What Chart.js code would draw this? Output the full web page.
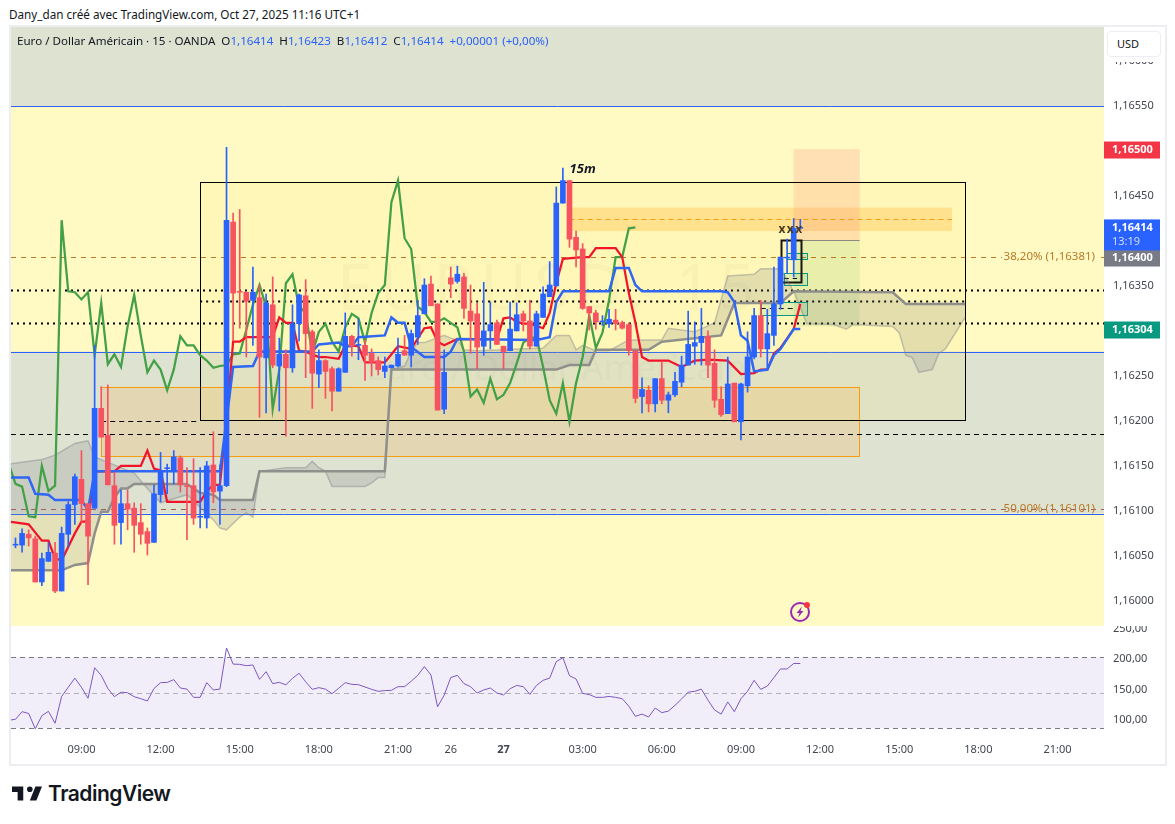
<!DOCTYPE html>
<html lang="fr">
<head>
<meta charset="utf-8">
<title>EURUSD 15</title>
<script src="https://cdn.jsdelivr.net/npm/chart.js"></script>
<style>
    html, body { margin: 0; padding: 0; background: #fff; font-family: "Noto Sans", sans-serif; color: #131722; }
    body { width: 1175px; height: 824px; position: relative; overflow: hidden; }
    canvas { position: absolute; display: block; }
    #frame { position: absolute; left: 9px; top: 25px; width: 1154px; height: 737px; border: 1px solid #eceef2; border-width: 2px; }
    #credit { position: absolute; left: 9px; top: 6px; font-size: 11.7px; white-space: nowrap; color: #131722; }
    #legend { position: absolute; left: 17px; top: 33px; font-size: 11.6px; white-space: pre; color: #131722; }
    #legend b { font-weight: normal; color: #2962ff; }
    #unitMask { position: absolute; left: 1105px; top: 28px; width: 58px; height: 34px; background: #fff; }
    #unit { position: absolute; left: 1107px; top: 31px; width: 52px; height: 24px; line-height: 24px; border: 1px solid #eceef2; border-radius: 4px; background: #fff; font-size: 11px; text-indent: 9px; }
    #logo { position: absolute; left: 12px; top: 786px; }
    #brand { position: absolute; left: 48px; top: 778px; font: 600 21px/32px Inter, sans-serif; letter-spacing: -0.5px; color: #131722; }
    #spark { position: absolute; left: 788px; top: 600px; }
</style>
</head>
<body>
<canvas id="mainChart" width="1154" height="599" style="left:11px;top:27px"></canvas>
<canvas id="oscChart" width="1154" height="138" style="left:11px;top:626px"></canvas>
<div id="frame"></div>
<div id="credit">Dany_dan créé avec TradingView.com, Oct 27, 2025 11:16 UTC+1</div>
<div id="legend">Euro / Dollar Américain · 15 · OANDA  O<b>1,16414</b>  H<b>1,16423</b>  B<b>1,16412</b>  C<b>1,16414</b>  <b>+0,00001 (+0,00%)</b></div>
<div id="unitMask"></div>
<div id="unit">USD</div>
<svg id="spark" width="24" height="24" viewBox="0 0 24 24">
    <circle cx="12" cy="12" r="9" fill="none" stroke="#9c27b0" stroke-width="2"/>
    <path d="M14 6.5 8.5 13h3l-1.5 4.5 5.5-6.5h-3z" fill="#9c27b0"/>
    <circle cx="19" cy="5" r="3" fill="#f23645"/>
</svg>
<svg id="logo" width="30" height="15" viewBox="2 6 32 15"><path fill="#131722" d="M14 6H2v6h6v9h6V6zm14 15h-7l6-15h7l-6 15zm-7-9a3 3 0 1 0 0-6 3 3 0 0 0 0 6z"/></svg>
<div id="brand">TradingView</div>

<script>
// bars are counted in 15 minute steps, bar 0 is 09:00 on the 27th
const firstBar = -110;

const candleOpen = [
    1.16061,1.16061,1.16073,1.16068,1.16020,1.16043,1.16052,1.16010,1.16073,1.16106,
    1.16134,1.16107,1.16102,1.16213,1.16183,1.16127,1.16086,1.16107,1.16102,1.16086,
    1.16076,1.16064,1.16117,1.16146,1.16143,1.16158,1.16127,1.16127,1.16092,1.16091,
    1.16150,1.16121,1.16127,1.16420,1.16343,1.16342,1.16333,1.16336,1.16269,1.16328,
    1.16260,1.16273,1.16258,1.16307,1.16338,1.16298,1.16251,1.16266,1.16257,1.16232,
    1.16253,1.16293,1.16283,1.16283,1.16274,1.16266,1.16254,1.16258,1.16260,1.16277,
    1.16272,1.16292,1.16318,1.16351,1.16329,1.16212,1.16358,1.16354,1.16359,1.16321,
    1.16318,1.16282,1.16299,1.16308,1.16282,1.16277,1.16299,1.16318,1.16310,1.16282,
    1.16314,1.16337,1.16349,1.16441,1.16466,1.16403,1.16390,1.16326,1.16319,1.16309,
    1.16307,1.16311,1.16308,1.16306,1.16277,1.16226,1.16233,1.16218,1.16246,1.16222,
    1.16228,1.16242,1.16261,1.16282,1.16286,1.16293,1.16263,1.16223,1.16207,1.16241,
    1.16198,1.16238,1.16270,1.16316,1.16279,1.16294,1.16329,1.16380,1.16378,1.16413
];
const candleHigh = [
    1.16069,1.16079,1.16078,1.16071,1.16052,1.16064,1.16064,1.16081,1.16109,1.16140,
    1.16166,1.16107,1.16283,1.16237,1.16239,1.16142,1.16122,1.16122,1.16108,1.16107,
    1.16080,1.16128,1.16164,1.16151,1.16166,1.16160,1.16147,1.16157,1.16147,1.16154,
    1.16187,1.16150,1.16503,1.16430,1.16434,1.16342,1.16370,1.16350,1.16340,1.16359,
    1.16291,1.16278,1.16328,1.16340,1.16356,1.16300,1.16278,1.16267,1.16259,1.16258,
    1.16319,1.16294,1.16312,1.16289,1.16279,1.16270,1.16270,1.16261,1.16291,1.16294,
    1.16300,1.16333,1.16357,1.16360,1.16329,1.16278,1.16370,1.16371,1.16363,1.16350,
    1.16330,1.16353,1.16331,1.16311,1.16282,1.16331,1.16330,1.16321,1.16333,1.16321,
    1.16348,1.16376,1.16459,1.16480,1.16466,1.16410,1.16396,1.16326,1.16322,1.16316,
    1.16323,1.16323,1.16310,1.16308,1.16277,1.16247,1.16238,1.16246,1.16264,1.16231,
    1.16253,1.16271,1.16321,1.16309,1.16324,1.16299,1.16278,1.16237,1.16270,1.16241,
    1.16241,1.16298,1.16324,1.16333,1.16323,1.16370,1.16381,1.16401,1.16424,1.16423
];
const candleLow = [
    1.16058,1.16053,1.16060,1.16020,1.16016,1.16043,1.16008,1.16010,1.16059,1.16084,
    1.16086,1.16017,1.16102,1.16181,1.16128,1.16062,1.16062,1.16078,1.16053,1.16062,
    1.16050,1.16064,1.16109,1.16118,1.16129,1.16120,1.16067,1.16084,1.16080,1.16080,
    1.16108,1.16084,1.16126,1.16288,1.16302,1.16270,1.16283,1.16203,1.16208,1.16258,
    1.16210,1.16182,1.16253,1.16288,1.16247,1.16213,1.16236,1.16224,1.16210,1.16232,
    1.16253,1.16271,1.16267,1.16244,1.16249,1.16250,1.16247,1.16258,1.16259,1.16272,
    1.16259,1.16284,1.16318,1.16327,1.16211,1.16207,1.16336,1.16352,1.16313,1.16274,
    1.16257,1.16272,1.16279,1.16284,1.16257,1.16277,1.16299,1.16299,1.16279,1.16282,
    1.16314,1.16337,1.16349,1.16441,1.16392,1.16370,1.16323,1.16300,1.16301,1.16305,
    1.16303,1.16300,1.16301,1.16272,1.16219,1.16208,1.16209,1.16209,1.16218,1.16208,
    1.16226,1.16237,1.16261,1.16262,1.16261,1.16247,1.16214,1.16204,1.16207,1.16198,
    1.16178,1.16231,1.16268,1.16270,1.16256,1.16283,1.16323,1.16363,1.16359,1.16412
];
const candleClose = [
    1.16062,1.16074,1.16069,1.16020,1.16046,1.16053,1.16010,1.16074,1.16106,1.16137,
    1.16107,1.16071,1.16213,1.16181,1.16128,1.16083,1.16107,1.16101,1.16083,1.16073,
    1.16063,1.16118,1.16143,1.16147,1.16159,1.16128,1.16126,1.16091,1.16093,1.16149,
    1.16120,1.16127,1.16422,1.16341,1.16342,1.16332,1.16342,1.16270,1.16330,1.16261,
    1.16273,1.16258,1.16307,1.16339,1.16296,1.16252,1.16266,1.16254,1.16232,1.16257,
    1.16293,1.16282,1.16284,1.16272,1.16264,1.16256,1.16260,1.16261,1.16273,1.16272,
    1.16296,1.16316,1.16350,1.16327,1.16211,1.16253,1.16351,1.16362,1.16324,1.16310,
    1.16281,1.16299,1.16306,1.16284,1.16276,1.16301,1.16317,1.16310,1.16282,1.16318,
    1.16340,1.16350,1.16441,1.16466,1.16401,1.16389,1.16324,1.16319,1.16309,1.16310,
    1.16312,1.16307,1.16302,1.16277,1.16224,1.16234,1.16218,1.16246,1.16222,1.16228,
    1.16243,1.16261,1.16284,1.16286,1.16293,1.16261,1.16222,1.16206,1.16240,1.16198,
    1.16240,1.16270,1.16316,1.16279,1.16296,1.16329,1.16381,1.16381,1.16413,1.16414
];

const redBars = [-111,-108,-106,-105,-104,-103,-101,-100,-99,-98,-95,-94,-91,-90,-89,-88,-87,-82,-81,-80,-79,-78,-77,-76,-75,-71,-70,-69,-68,-67,-66,-64,-63,-61,-60,-58,-57,-54,-52,-50,-48,-47,-46,-45,-43,-37,-36,-35,-34,-33,-32,-30,-29,-28,-27,-24,-23,-22,-19,-18,-17,-16,-15,-14,-11,-9,-7,-5,-2,0,2,3,4,5,6,8,9];
const redValues = [1.16087,1.16084,1.16066,1.16066,1.16046,1.16044,1.16074,1.16087,1.16087,1.16143,1.16143,1.16149,1.16149,1.16166,1.16146,1.16144,1.16109,1.16109,1.16121,1.16128,1.16128,1.16200,1.16287,1.16287,1.16292,1.16292,1.16314,1.16308,1.16308,1.16277,1.16276,1.16270,1.16270,1.16268,1.16283,1.16282,1.16264,1.16264,1.16282,1.16279,1.16302,1.16303,1.16287,1.16283,1.16290,1.16290,1.16313,1.16314,1.16309,1.16307,1.16307,1.16302,1.16319,1.16352,1.16379,1.16381,1.16381,1.16391,1.16391,1.16381,1.16341,1.16308,1.16270,1.16266,1.16266,1.16259,1.16266,1.16267,1.16266,1.16251,1.16252,1.16256,1.16256,1.16274,1.16280,1.16301,1.16329];

const blueBars = [-111,-108,-107,-105,-104,-100,-99,-98,-79,-78,-77,-74,-73,-65,-64,-61,-60,-59,-58,-54,-53,-52,-51,-50,-48,-45,-44,-43,-31,-29,-28,-27,-20,-19,-17,-16,-15,-3,-2,-1,0,1,2,4,5,6,8,9];
const blueValues = [1.16136,1.16136,1.16118,1.16117,1.16111,1.16111,1.16100,1.16143,1.16143,1.16200,1.16259,1.16260,1.16276,1.16276,1.16284,1.16286,1.16282,1.16282,1.16292,1.16294,1.16314,1.16308,1.16308,1.16281,1.16270,1.16270,1.16276,1.16290,1.16289,1.16292,1.16331,1.16343,1.16343,1.16369,1.16369,1.16350,1.16343,1.16343,1.16342,1.16331,1.16294,1.16288,1.16254,1.16256,1.16272,1.16279,1.16301,1.16301];

const greenBars = [-111,-110,-109,-108,-107,-106,-105,-104,-103,-102,-101,-100,-99,-98,-97,-96,-95,-94,-93,-92,-91,-90,-89,-88,-87,-86,-85,-84,-83,-82,-81,-80,-79,-78,-77,-76,-75,-74,-73,-72,-71,-70,-69,-68,-67,-66,-65,-64,-63,-62,-61,-60,-59,-58,-57,-56,-55,-54,-53,-52,-51,-50,-49,-48,-47,-46,-45,-44,-43,-42,-41,-40,-39,-38,-37,-36,-35,-34,-33,-32,-31,-30,-29,-28,-27,-26,-25,-24,-23,-22,-21,-20,-19,-18,-17,-16];
const greenValues = [1.16151,1.16129,1.16126,1.16093,1.16092,1.16149,1.16121,1.16127,1.16422,1.16343,1.16342,1.16334,1.16342,1.16272,1.16330,1.16262,1.16273,1.16259,1.16304,1.16339,1.16294,1.16253,1.16266,1.16256,1.16233,1.16256,1.16293,1.16283,1.16283,1.16272,1.16266,1.16258,1.16260,1.16261,1.16273,1.16274,1.16300,1.16328,1.16350,1.16326,1.16212,1.16256,1.16352,1.16362,1.16326,1.16319,1.16274,1.16298,1.16307,1.16287,1.16276,1.16303,1.16318,1.16313,1.16286,1.16319,1.16341,1.16350,1.16442,1.16466,1.16402,1.16390,1.16326,1.16320,1.16309,1.16309,1.16313,1.16308,1.16303,1.16276,1.16226,1.16234,1.16219,1.16246,1.16223,1.16228,1.16241,1.16263,1.16286,1.16291,1.16292,1.16259,1.16222,1.16207,1.16241,1.16198,1.16241,1.16270,1.16316,1.16280,1.16297,1.16333,1.16381,1.16381,1.16413,1.16414];

const spanABars = [-111,-106,-104,-101,-99,-98,-92,-90,-88,-84,-80,-79,-78,-76,-75,-74,-73,-69,-66,-65,-64,-63,-62,-57,-56,-55,-54,-53,-51,-50,-49,-48,-45,-44,-43,-42,-40,-30,-28,-26,-25,-24,-22,-20,-17,-12,-11,-7,-4,-2,2,3,6,8,10,14,16,17,23,24,25,26,27,29,30,31,34];
const spanAValues = [1.16151,1.16156,1.16161,1.16174,1.16177,1.16159,1.16141,1.16124,1.16108,1.16117,1.16089,1.16080,1.16078,1.16092,1.16097,1.16092,1.16143,1.16147,1.16147,1.16154,1.16147,1.16143,1.16126,1.16126,1.16130,1.16136,1.16136,1.16256,1.16260,1.16276,1.16286,1.16286,1.16294,1.16291,1.16289,1.16278,1.16277,1.16280,1.16294,1.16294,1.16278,1.16283,1.16277,1.16277,1.16289,1.16289,1.16302,1.16298,1.16308,1.16360,1.16362,1.16368,1.16368,1.16343,1.16307,1.16306,1.16301,1.16306,1.16304,1.16297,1.16272,1.16269,1.16253,1.16256,1.16274,1.16279,1.16314];
const spanBBars = [-111,-103,-101,-99,-98,-97,-96,-95,-94,-93,-92,-84,-82,-80,-79,-74,-73,-54,-53,-28,-26,-23,-22,-14,-12,-3,-1,6,8,23,25,34];
const spanBValues = [1.16033,1.16033,1.16039,1.16041,1.16074,1.16098,1.16098,1.16114,1.16124,1.16124,1.16129,1.16129,1.16119,1.16117,1.16111,1.16111,1.16143,1.16143,1.16256,1.16256,1.16261,1.16261,1.16278,1.16278,1.16287,1.16294,1.16330,1.16330,1.16343,1.16342,1.16329,1.16329];

const oscBars = [-111,-110,-109,-108,-107,-106,-105,-104,-103,-102,-101,-100,-99,-98,-97,-96,-95,-94,-93,-92,-91,-90,-89,-88,-87,-86,-85,-84,-83,-82,-81,-80,-79,-78,-77,-76,-75,-74,-73,-72,-71,-70,-69,-68,-67,-66,-65,-64,-63,-62,-61,-60,-59,-58,-57,-56,-55,-54,-53,-52,-51,-50,-49,-48,-47,-46,-45,-44,-43,-42,-41,-40,-39,-38,-37,-36,-35,-34,-33,-32,-31,-30,-29,-28,-27,-26,-25,-24,-23,-22,-21,-20,-19,-18,-17,-16,-15,-14,-13,-12,-11,-10,-9,-8,-7,-6,-5,-4,-3,-2,-1,0,1,2,3,4,5,6,7,8,9];
const oscValues = [
    98,99.5,112,109,84,105.5,112.6,93,137,152,
    167,152,134,184,171.6,150,136.6,144,143,136.6,
    133.3,129.5,150,159.6,160,164.5,150.8,149,135.5,135.5,
    159.6,147.6,149,216.4,190,189.6,187.4,188.5,165,177.6,
    158,160,156,166.7,175,161,148.6,151.4,149,141.5,
    150.3,159.6,156.8,156.3,152.5,148.6,145.4,146.5,147,153,
    153,162,171.6,186,172,120,139,168,171.6,158,
    153,142.6,147.6,150.8,142.6,139.4,149.7,155,153,140.4,
    155,163.4,167,194,200.5,171,165.6,142,140,135.5,
    135.5,137,135.5,133.3,121,104.4,108,103.3,118,110.4,
    113,122.4,132.8,144,145.4,149,131,114.8,108,128,
    112,133.3,145.4,163.4,148.6,154,167.8,182,182,191,
    191
];

const timeTickBars = [-100,-88,-76,-64,-52,-44,-36,-24,-12,0,12,24,36,48];
const timeTickLabels = ['09:00','12:00','15:00','18:00','21:00','26','27','03:00','06:00','09:00','12:00','15:00','18:00','21:00'];
const priceTicks = [1.16,1.1605,1.161,1.1615,1.162,1.1625,1.163,1.1635,1.164,1.1645,1.165,1.1655,1.166];
const oscTicks = [100,150,200,250];
const oscLevels = [201,143,85];

const grayZones = [[1.16637,1.16549],[1.16276,1.16096]];
const blueLevels = [1.16549,1.16276,1.16096];
const dottedLevels = [1.16345,1.16308];
const dottedInBox = 1.16332;
const dashedLevel = 1.16185;
const fibLevels = [1.16381,1.16101];
const fibLabels = ['38,20% (1,16381)','50,00% (1,16101)'];
const mainBox = { bars: [-82,34], prices: [1.16464,1.16199] };
const tanBox = { bars: [-97,18], prices: [1.16237,1.16160] };
const orangeBand = { bars: [-26,32], prices: [1.16436,1.16410], mid: 1.16423 };
const targetBox = { bars: [8,18], prices: [1.16501,1.16400] };
const stopBox = { bars: [8,18], prices: [1.16400,1.16304] };
const focusBox = { bars: [6,9], prices: [1.16400,1.16353] };
const tealBoxes = [
    { bars: [7,10], prices: [1.16386,1.16379] },
    { bars: [6.5,10], prices: [1.16363,1.16350] },
    { bars: [3,10], prices: [1.16331,1.16316] }
];
const tealDashes = [
    { bars: [6.5,8.5], price: 1.16358 },
    { bars: [3,8], price: 1.16324 }
];
const priceBadges = [
    { text: '1,16500', price: 1.16500, color: '#f23645' },
    { text: '1,16400', price: 1.16380, color: '#787b86' },
    { text: '1,16304', price: 1.16300, color: '#089981' }
];

const barIndex = candleOpen.map((_, i) => firstBar + i);
const xMin = -110.68;
const xMax = 55.05;
const yellowBg = '#fff9c4';
const toXY = (xs, ys) => xs.map((x, i) => ({ x: x, y: ys[i] }));
const isUp = i => candleClose[i] >= candleOpen[i];
const formatPrice = v => v.toFixed(5).replace('.', ',');

function fillBox(chart, box, color) {
    const x = chart.scales.x, y = chart.scales.y;
    const left = x.getPixelForValue(box.bars[0]), right = x.getPixelForValue(box.bars[1]);
    const top = y.getPixelForValue(box.prices[0]), bottom = y.getPixelForValue(box.prices[1]);
    chart.ctx.fillStyle = color;
    chart.ctx.fillRect(left, top, right - left, bottom - top);
}

function strokeBox(chart, box, color, width) {
    const x = chart.scales.x, y = chart.scales.y;
    const left = x.getPixelForValue(box.bars[0]), right = x.getPixelForValue(box.bars[1]);
    const top = y.getPixelForValue(box.prices[0]), bottom = y.getPixelForValue(box.prices[1]);
    chart.ctx.strokeStyle = color;
    chart.ctx.lineWidth = width;
    chart.ctx.setLineDash([]);
    chart.ctx.strokeRect(Math.round(left) + 0.5, Math.round(top) + 0.5, Math.round(right - left), Math.round(bottom - top));
}

function levelLine(chart, price, barA, barB, color, width, dash) {
    const x = chart.scales.x, y = chart.scales.y;
    const py = Math.round(y.getPixelForValue(price)) + 0.5;
    const ctx = chart.ctx;
    ctx.strokeStyle = color;
    ctx.lineWidth = width;
    ctx.setLineDash(dash);
    ctx.beginPath();
    ctx.moveTo(x.getPixelForValue(barA), py);
    ctx.lineTo(x.getPixelForValue(barB), py);
    ctx.stroke();
    ctx.setLineDash([]);
}

// ----- everything drawn behind the candles ----- //
const drawingsPlugin = {
    id: 'drawings',
    beforeDatasetsDraw(chart) {
        const ctx = chart.ctx, area = chart.chartArea;
        const x = chart.scales.x, y = chart.scales.y;
        ctx.save();
        ctx.fillStyle = yellowBg;
        ctx.fillRect(area.left, area.top, area.width, area.height);
        grayZones.forEach(z => fillBox(chart, { bars: [xMin, xMax], prices: z }, '#dee2d0'));

        // symbol watermark
        ctx.fillStyle = 'rgba(60,60,60,0.035)';
        ctx.textAlign = 'center';
        ctx.textBaseline = 'middle';
        ctx.letterSpacing = '7px';
        ctx.font = '64px "Noto Sans"';
        ctx.fillText('EURUSD, 15', x.getPixelForValue(-29), y.getPixelForValue(1.16342));
        ctx.letterSpacing = '0px';
        ctx.font = '35px "Noto Sans"';
        ctx.fillText('Euro / Dollar Américain', x.getPixelForValue(-28), y.getPixelForValue(1.16256));

        blueLevels.forEach(p => levelLine(chart, p, xMin, xMax, '#2962ff', 1, []));
        fillBox(chart, mainBox, 'rgba(255,235,59,0.09)');
        fillBox(chart, tanBox, 'rgba(255,152,0,0.14)');
        fillBox(chart, orangeBand, 'rgba(255,152,0,0.22)');
        fillBox(chart, targetBox, 'rgba(255,150,130,0.25)');
        fillBox(chart, stopBox, 'rgba(76,175,80,0.12)');
        levelLine(chart, targetBox.prices[1], targetBox.bars[0], targetBox.bars[1], '#8a8a80', 1, []);

        strokeBox(chart, tanBox, '#f59c10', 1);
        levelLine(chart, fibLevels[0], xMin, xMax, '#b87a26', 1, [5, 5]);
        levelLine(chart, fibLevels[1], xMin, xMax, '#a8604a', 1, [5, 5]);
        dottedLevels.forEach(p => levelLine(chart, p, xMin, xMax, '#000', 2, [2, 4]));
        levelLine(chart, dottedInBox, mainBox.bars[0], mainBox.bars[1], '#000', 2, [2, 4]);
        levelLine(chart, dashedLevel, xMin, xMax, '#000', 1, [5, 4]);
        levelLine(chart, mainBox.prices[1], tanBox.bars[0], mainBox.bars[0], '#000', 1, [5, 4]);
        levelLine(chart, orangeBand.mid, orangeBand.bars[0], orangeBand.bars[1], '#f59c10', 1, [5, 4]);
        strokeBox(chart, mainBox, '#000', 1);

        tealBoxes.forEach(b => {
            fillBox(chart, b, 'rgba(8,153,129,0.1)');
            strokeBox(chart, b, '#089981', 1);
        });
        tealDashes.forEach(d => levelLine(chart, d.price, d.bars[0], d.bars[1], '#111', 1, [5, 4]));
        strokeBox(chart, focusBox, '#16160f', 2);
        ctx.restore();
    },
    afterDatasetsDraw(chart) {
        const ctx = chart.ctx;
        const x = chart.scales.x, y = chart.scales.y;
        ctx.save();
        ctx.textBaseline = 'middle';
        ctx.textAlign = 'center';
        ctx.fillStyle = '#131722';
        ctx.font = 'italic bold 13px "Noto Sans"';
        ctx.fillText('15m', x.getPixelForValue(-24), y.getPixelForValue(1.16479));
        ctx.fillStyle = '#4a3d1e';
        ctx.font = 'bold 12px "Noto Sans"';
        ctx.letterSpacing = '1.5px';
        ctx.fillText('xxx', x.getPixelForValue(7.6), y.getPixelForValue(1.16412));
        ctx.letterSpacing = '0px';

        // fib labels sit on their own dashed line
        ctx.textAlign = 'right';
        ctx.font = '11.5px "Noto Sans"';
        fibLabels.forEach((label, i) => {
            const py = y.getPixelForValue(fibLevels[i]);
            if (i === 0) {
                ctx.fillStyle = yellowBg;
                ctx.fillRect(chart.chartArea.right - 102, py - 6, 94, 12);
            }
            ctx.fillStyle = '#b87a26';
            ctx.fillText(label, chart.chartArea.right - 9, py);
        });
        ctx.restore();
    },
    afterDraw(chart) {
        const ctx = chart.ctx;
        const y = chart.scales.y;
        const left = chart.chartArea.right;
        ctx.save();
        ctx.textBaseline = 'middle';
        ctx.textAlign = 'left';
        ctx.font = 'bold 11px "Noto Sans"';
        priceBadges.forEach(b => {
            const py = y.getPixelForValue(b.price);
            ctx.fillStyle = b.color;
            ctx.fillRect(left, py - 8.5, 56, 17);
            ctx.fillStyle = '#fff';
            ctx.fillText(b.text, left + 8, py);
        });
        // last price badge, with the bar countdown under the price
        const py = y.getPixelForValue(candleClose[candleClose.length - 1]);
        ctx.fillStyle = '#2962ff';
        ctx.fillRect(left, py - 8, 56, 31);
        ctx.fillStyle = '#fff';
        ctx.fillText(formatPrice(candleClose[candleClose.length - 1]), left + 8, py);
        ctx.fillStyle = '#d4dffd';
        ctx.font = '11px "Noto Sans"';
        ctx.fillText('13:19', left + 8, py + 14);
        ctx.restore();
    }
};

const oscBandPlugin = {
    id: 'oscBand',
    beforeDatasetsDraw(chart) {
        const ctx = chart.ctx, area = chart.chartArea;
        const y = chart.scales.y;
        ctx.save();
        const top = y.getPixelForValue(oscLevels[0]);
        const bottom = y.getPixelForValue(oscLevels[2]);
        ctx.fillStyle = 'rgba(126,87,194,0.1)';
        ctx.fillRect(area.left, top, area.width, bottom - top);
        levelLine(chart, oscLevels[0], xMin, xMax, '#787b86', 1, [5, 4]);
        levelLine(chart, oscLevels[1], xMin, xMax, '#b2b0b8', 1, [5, 4]);
        levelLine(chart, oscLevels[2], xMin, xMax, '#787b86', 1, [5, 4]);
        ctx.restore();
    }
};

const axisFont = { family: '"Noto Sans"', size: 11 };

new Chart(document.getElementById('mainChart'), {
    type: 'bar',
    data: {
        datasets: [
            {
                type: 'line', label: 'Span A', order: 9,
                data: toXY(spanABars, spanAValues),
                borderColor: 'rgba(120,123,134,0.4)', borderWidth: 1.5, pointRadius: 0,
                fill: '+1', backgroundColor: 'rgba(120,123,134,0.2)'
            },
            {
                type: 'line', label: 'Span B', order: 8,
                data: toXY(spanBBars, spanBValues),
                borderColor: '#8f8f8c', borderWidth: 2.5, pointRadius: 0, fill: false
            },
            {
                type: 'line', label: 'Lagging', order: 7,
                data: toXY(greenBars, greenValues),
                borderColor: '#43a047', borderWidth: 2.25, pointRadius: 0, fill: false
            },
            {
                type: 'line', label: 'Fast', order: 6,
                data: toXY(redBars, redValues),
                borderColor: '#f2142a', borderWidth: 2.25, pointRadius: 0, fill: false
            },
            {
                type: 'line', label: 'Slow', order: 5,
                data: toXY(blueBars, blueValues),
                borderColor: '#2f66f2', borderWidth: 2.5, pointRadius: 0, fill: false
            },
            {
                label: 'Wicks', order: 2, grouped: false, barThickness: 1,
                data: barIndex.map((b, i) => ({ x: b, y: [candleLow[i], candleHigh[i]] })),
                backgroundColor: barIndex.map((_, i) => isUp(i) ? '#2962ff' : '#f7525f')
            },
            {
                label: 'Bodies', order: 1, grouped: false, barThickness: 5,
                data: barIndex.map((b, i) => ({ x: b, y: [candleOpen[i], candleClose[i]] })),
                backgroundColor: barIndex.map((_, i) => isUp(i) ? '#2962ff' : '#f7525f')
            }
        ]
    },
    options: {
        responsive: false,
        animation: false,
        layout: { padding: 0 },
        plugins: { legend: { display: false }, tooltip: { enabled: false } },
        scales: {
            x: { type: 'linear', display: false, min: xMin, max: xMax, offset: false },
            y: {
                position: 'right',
                min: 1.159711,
                max: 1.166367,
                grid: { display: false, drawTicks: false },
                border: { display: false },
                afterBuildTicks(scale) { scale.ticks = priceTicks.map(v => ({ value: v })); },
                afterFit(scale) { scale.width = 61; scale.paddingTop = 0; scale.paddingBottom = 0; },
                ticks: { color: '#42464f', font: axisFont, padding: 9, labelOffset: 1, autoSkip: false, callback: v => formatPrice(v) }
            }
        }
    },
    plugins: [drawingsPlugin]
});

new Chart(document.getElementById('oscChart'), {
    type: 'line',
    data: {
        datasets: [{
            label: 'Oscillator',
            data: toXY(oscBars, oscValues),
            borderColor: '#7e57c2', borderWidth: 1, pointRadius: 0, fill: false
        }]
    },
    options: {
        responsive: false,
        animation: false,
        layout: { padding: 0 },
        plugins: { legend: { display: false }, tooltip: { enabled: false } },
        scales: {
            x: {
                type: 'linear', min: xMin, max: xMax, offset: false,
                grid: { display: false, drawTicks: false },
                border: { display: false },
                afterBuildTicks(scale) { scale.ticks = timeTickBars.map(v => ({ value: v })); },
                afterFit(scale) { scale.height = 26; scale.paddingLeft = 0; scale.paddingRight = 0; },
                ticks: {
                    color: '#42464f', padding: 5, maxRotation: 0, autoSkip: false,
                    font: ctx => ({ family: '"Noto Sans"', size: 11, weight: ctx.tick && ctx.tick.value === -36 ? 'bold' : 'normal' }),
                    callback: v => timeTickLabels[timeTickBars.indexOf(v)]
                }
            },
            y: {
                position: 'right',
                min: 68.85,
                max: 252.46,
                grid: { display: false, drawTicks: false },
                border: { display: false },
                afterBuildTicks(scale) { scale.ticks = oscTicks.map(v => ({ value: v })); },
                afterFit(scale) { scale.width = 61; scale.paddingTop = 0; scale.paddingBottom = 0; },
                ticks: { color: '#42464f', font: axisFont, padding: 9, labelOffset: 1, autoSkip: false, callback: v => v.toFixed(2).replace('.', ',') }
            }
        }
    },
    plugins: [oscBandPlugin]
});
</script>
</body>
</html>
